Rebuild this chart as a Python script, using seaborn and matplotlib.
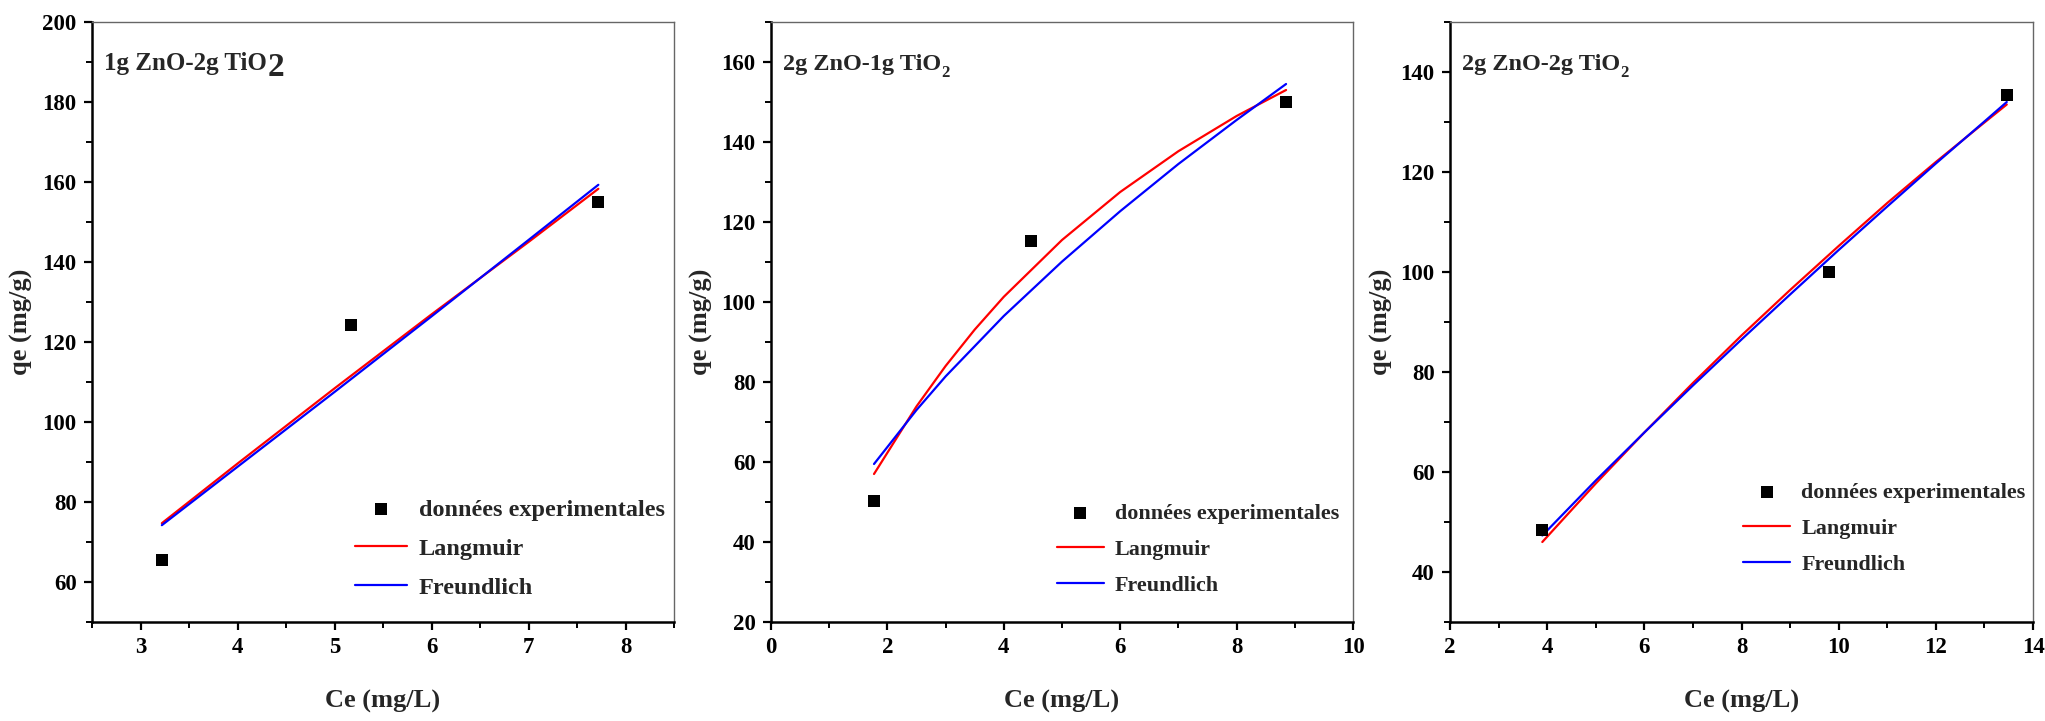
import numpy as np
import pandas as pd
import matplotlib
matplotlib.use("Agg")
import matplotlib.pyplot as plt
import seaborn as sns
from matplotlib.ticker import MultipleLocator

# ---------------- data ----------------
# Panel 1 : 1g ZnO-2g TiO2
p1_ce_exp = [3.22, 5.17, 7.72]
p1_qe_exp = [65.5, 124.3, 155.0]
p1_ce_lang = [3.22, 4.0, 5.0, 6.0, 7.0, 7.72]
p1_qe_lang = [74.7, 89.6, 108.4, 126.9, 145.0, 158.3]
p1_ce_freu = [3.22, 4.0, 5.0, 6.0, 7.0, 7.72]
p1_qe_freu = [74.2, 88.8, 107.5, 126.4, 145.5, 159.3]

# Panel 2 : 2g ZnO-1g TiO2
p2_ce_exp = [1.77, 4.46, 8.85]
p2_qe_exp = [50.3, 115.3, 150.1]
p2_ce_lang = [1.77, 2.5, 3.0, 3.5, 4.0, 5.0, 6.0, 7.0, 8.0, 8.85]
p2_qe_lang = [57.0, 73.9, 84.0, 93.1, 101.3, 115.5, 127.5, 137.7, 146.5, 153.0]
p2_ce_freu = [1.77, 2.5, 3.0, 4.0, 5.0, 6.0, 7.0, 8.0, 8.85]
p2_qe_freu = [59.5, 73.0, 81.4, 96.5, 110.1, 122.7, 134.5, 145.5, 154.5]

# Panel 3 : 2g ZnO-2g TiO2
p3_ce_exp = [3.90, 9.81, 13.46]
p3_qe_exp = [48.5, 100.1, 135.4]
p3_ce_lang = [3.9, 5.0, 6.0, 7.0, 8.0, 9.0, 10.0, 11.0, 12.0, 13.0, 13.46]
p3_qe_lang = [46.0, 57.7, 67.9, 77.8, 87.3, 96.4, 105.2, 113.8, 122.0, 129.9, 133.5]
p3_ce_freu = [3.9, 5.0, 6.0, 7.0, 8.0, 9.0, 10.0, 11.0, 12.0, 13.0, 13.46]
p3_qe_freu = [47.3, 58.3, 67.9, 77.3, 86.5, 95.5, 104.4, 113.1, 121.7, 130.1, 134.0]

titles_main = ["1g ZnO-2g TiO", "2g ZnO-1g TiO", "2g ZnO-2g TiO"]
titles_sub = ["2", "2", "2"]
labels = ["données experimentales", "Langmuir", "Freundlich"]
xlabel = "Ce (mg/L)"
ylabel = "qe (mg/g)"

# ---------------- style ----------------
sns.set_theme(style="white")
plt.rcParams["font.family"] = ["Liberation Serif", "DejaVu Serif"]
plt.rcParams["font.weight"] = "bold"

fig = plt.figure(figsize=(20.45, 7.21), dpi=100)

W, H = 2045, 721
boxes = [(92, 674), (771, 1353), (1450, 2033)]
top_px, bot_px = 22, 622

panels = [
    dict(exp=(p1_ce_exp, p1_qe_exp), lang=(p1_ce_lang, p1_qe_lang), freu=(p1_ce_freu, p1_qe_freu),
         xlim=(2.5, 8.5), ylim=(50, 200), xmaj=1, xmin=0.5, ymaj=20, ymin=10,
         title_size=18, sub_size=24, sub_dy=-6, leg_size=17.5,
         leg_anchor=(1.022, 0.002), ylab_x=-0.101),
    dict(exp=(p2_ce_exp, p2_qe_exp), lang=(p2_ce_lang, p2_qe_lang), freu=(p2_ce_freu, p2_qe_freu),
         xlim=(0, 10), ylim=(20, 170), xmaj=2, xmin=1, ymaj=20, ymin=10,
         title_size=17.5, sub_size=12, sub_dy=-4, leg_size=15.8,
         leg_anchor=(1.010, 0.011), ylab_x=-0.100),
    dict(exp=(p3_ce_exp, p3_qe_exp), lang=(p3_ce_lang, p3_qe_lang), freu=(p3_ce_freu, p3_qe_freu),
         xlim=(2, 14), ylim=(30, 150), xmaj=2, xmin=1, ymaj=20, ymin=10,
         title_size=17.5, sub_size=12, sub_dy=-4, leg_size=15.8,
         leg_anchor=(1.021, 0.046), ylab_x=-0.098),
]

for i, (p, (l, r)) in enumerate(zip(panels, boxes)):
    ax = fig.add_axes([l / W, 1 - bot_px / H, (r - l) / W, (bot_px - top_px) / H])
    ce_e, qe_e = p["exp"]
    sns.scatterplot(x=ce_e, y=qe_e, ax=ax, marker="s", s=78, color="black",
                    edgecolor="black", linewidth=0, label=labels[0], zorder=3)
    sns.lineplot(x=p["lang"][0], y=p["lang"][1], ax=ax, color="#ff0000", lw=1.6,
                 sort=False, estimator=None, label=labels[1])
    sns.lineplot(x=p["freu"][0], y=p["freu"][1], ax=ax, color="#0000ff", lw=1.6,
                 sort=False, estimator=None, label=labels[2])

    ax.set_xlim(*p["xlim"])
    ax.set_ylim(*p["ylim"])
    ax.xaxis.set_major_locator(MultipleLocator(p["xmaj"]))
    ax.xaxis.set_minor_locator(MultipleLocator(p["xmin"]))
    ax.yaxis.set_major_locator(MultipleLocator(p["ymaj"]))
    ax.yaxis.set_minor_locator(MultipleLocator(p["ymin"]))
    if i == 0:
        ax.set_xticks([3, 4, 5, 6, 7, 8])
    ax.tick_params(which="major", direction="out", length=6, width=1.6, labelsize=16.5,
                   pad=5, bottom=True, left=True, top=False, right=False, colors="black")
    ax.tick_params(which="minor", direction="out", length=4, width=1.4,
                   bottom=True, left=True, top=False, right=False, colors="black")
    for lab in ax.get_xticklabels() + ax.get_yticklabels():
        lab.set_fontweight("bold")

    for s in ["left", "bottom"]:
        ax.spines[s].set_color("black")
        ax.spines[s].set_linewidth(1.8)
    for s in ["top", "right"]:
        ax.spines[s].set_color("#666666")
        ax.spines[s].set_linewidth(1.0)

    ax.set_xlabel(xlabel, fontsize=19, fontweight="bold")
    ax.set_ylabel(ylabel, fontsize=19, fontweight="bold")
    ax.xaxis.set_label_coords(0.5, -0.113)
    ax.yaxis.set_label_coords(p["ylab_x"], 0.5)

    t = ax.text(0.02, 0.92, titles_main[i], transform=ax.transAxes, fontsize=p["title_size"],
                fontweight="bold", ha="left", va="baseline")
    ax.annotate(titles_sub[i], xy=(1.0, 0.0), xycoords=t, xytext=(0.5, p["sub_dy"]),
                textcoords="offset points", fontsize=p["sub_size"], fontweight="bold",
                ha="left", va="bottom")

    ax.legend(loc="lower right", bbox_to_anchor=p["leg_anchor"], frameon=False,
              prop={"family": "Liberation Serif", "weight": "bold", "size": p["leg_size"]},
              handlelength=2.15, handletextpad=0.5, labelspacing=0.7, markerscale=1.0)

fig.savefig("out.png", dpi=100)
